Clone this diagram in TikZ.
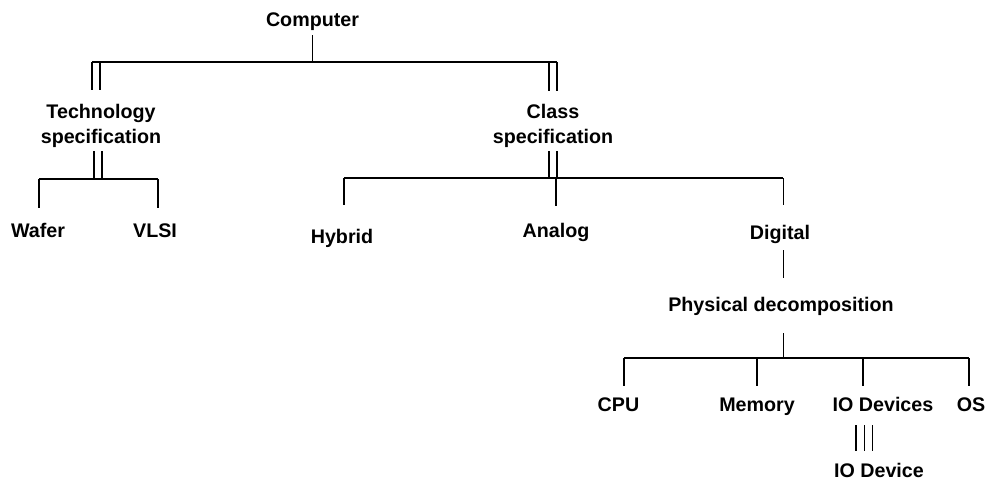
\documentclass[tikz,border=0pt]{standalone}
\usepackage{fontspec}
\setmainfont{Liberation Sans}

\begin{document}
\begin{tikzpicture}[
    x=0.025cm, y=-0.025cm,
    lbl/.style={font=\bfseries\fontsize{14}{17.8}\selectfont, align=center,
                inner sep=0pt},
    leaf/.style={lbl, text height=10pt, text depth=2pt},
    ln/.style={line width=1pt},
    twin/.style={ln, double, double distance=4.6pt}
]
\useasboundingbox (0,0) rectangle (989,482);
% labels
\node[leaf] (comp)   at (312.5,21) {Computer};
\node[lbl]  (tech)   at (101,125.5) {Technology\\specification};
\node[lbl]  (cls)    at (553,125.5) {Class\\specification};
\node[leaf] (wafer)  at (38,232)  {Wafer};
\node[leaf] (vlsi)   at (155,232) {VLSI};
\node[leaf] (hybrid) at (342,238) {Hybrid};
\node[leaf] (analog) at (556,232) {Analog};
\node[leaf] (digital) at (780,234) {Digital};
\node[leaf] (phys)   at (781,306) {Physical decomposition};
\node[leaf] (cpu)    at (618.5,406) {CPU};
\node[leaf] (mem)    at (757,406) {Memory};
\node[leaf] (iodevs) at (883,406) {IO Devices};
\node[leaf] (os)     at (971,406) {OS};
\node[leaf] (iodev)  at (879,472) {IO Device};
% bar heights
\coordinate (bar1) at (0,62);
\coordinate (bar2) at (0,179);
\coordinate (bar3) at (0,178);
\coordinate (bar4) at (0,358);
% multiple links first, bars drawn over them
\draw[twin] ([xshift=-3.6pt]tech |- bar1) -- ++(0,28);
\draw[twin] (cls |- bar1) -- ++(0,29);
\draw[twin] ([xshift=-2.1pt]tech |- bar2) -- ++(0,-28);
\draw[twin] (cls |- bar3) -- ++(0,-27);
\draw[twin, double distance=10.8pt] ([xshift=-10.5pt]iodev |- 0,425) -- ++(0,26);
\draw[ln] ([xshift=-10.5pt]iodev |- 0,425) -- ++(0,26);
% level 1
\draw[ln] (comp |- bar1) -- ++(0,-27);
\draw[ln] ([xshift=-6.4pt]tech |- bar1) -- ([xshift=2.8pt]cls |- bar1);
% technology
\draw[ln] ([xshift=0.7pt]wafer |- bar2) -- ++(0,29);
\draw[ln] ([xshift=2.1pt]vlsi |- bar2) -- ++(0,29);
\draw[ln] ([xshift=0.7pt]wafer |- bar2) -- ([xshift=2.1pt]vlsi |- bar2);
% class
\draw[ln] ([xshift=1.4pt]hybrid |- bar3) -- ++(0,27);
\draw[ln] (analog |- bar3) -- ++(0,28);
\draw[ln] ([xshift=2.4pt]digital |- bar3) -- ++(0,27);
\draw[ln] ([xshift=1.4pt]hybrid |- bar3) -- ([xshift=2.4pt]digital |- bar3);
\draw[ln] ([xshift=2.4pt]digital |- 0,250) -- ++(0,28);
% physical decomposition
\draw[ln] ([xshift=1.6pt]phys |- bar4) -- ++(0,-25);
\draw[ln] ([xshift=3.9pt]cpu |- bar4) -- ++(0,28);
\draw[ln] (mem |- bar4) -- ++(0,28);
\draw[ln] ([xshift=-14.2pt]iodevs |- bar4) -- ++(0,28);
\draw[ln] ([xshift=-1.4pt]os |- bar4) -- ++(0,28);
\draw[ln] ([xshift=3.9pt]cpu |- bar4) -- ([xshift=-1.4pt]os |- bar4);
\end{tikzpicture}
\end{document}
